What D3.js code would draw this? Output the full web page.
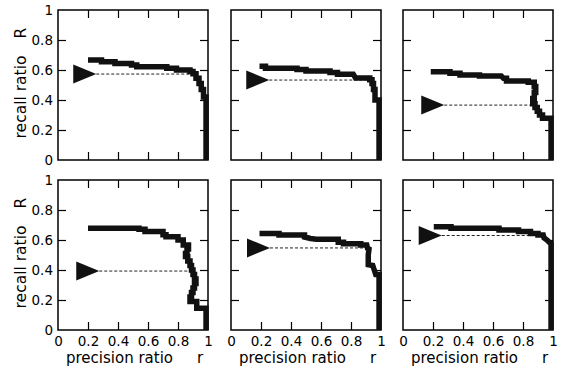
<!DOCTYPE html>
<html>
<head>
<meta charset="utf-8">
<script src="https://cdn.jsdelivr.net/npm/d3@7"></script>
<style>
  html, body { margin: 0; padding: 0; background: #fff; }
  svg { display: block; }
</style>
</head>
<body>
<svg id="chart" width="565" height="370"></svg>
<script>
// Precision (r) / recall (R) curves, one per panel, as [r, R] points.
const curve1 = [[0.20,0.667],[0.29,0.667],[0.29,0.655],[0.38,0.655],[0.38,0.644],[0.49,0.644],[0.49,0.633],[0.525,0.633],[0.525,0.622],[0.725,0.622],[0.725,0.611],[0.79,0.611],[0.79,0.600],[0.88,0.600],[0.88,0.590],[0.90,0.590],[0.90,0.575],[0.92,0.575],[0.92,0.545],[0.94,0.545],[0.94,0.51],[0.955,0.51],[0.955,0.47],[0.97,0.47],[0.97,0.42],[0.987,0.42],[0.987,0]];
const curve2 = [[0.19,0.625],[0.23,0.625],[0.23,0.612],[0.44,0.612],[0.44,0.603],[0.50,0.603],[0.50,0.593],[0.66,0.593],[0.66,0.583],[0.71,0.583],[0.71,0.572],[0.815,0.572],[0.83,0.547],[0.925,0.547],[0.925,0.535],[0.94,0.535],[0.94,0.51],[0.95,0.51],[0.95,0.47],[0.96,0.47],[0.96,0.40],[0.987,0.40],[0.987,0]];
const curve3 = [[0.185,0.589],[0.313,0.589],[0.313,0.578],[0.38,0.578],[0.38,0.567],[0.51,0.567],[0.51,0.56],[0.655,0.56],[0.67,0.545],[0.69,0.545],[0.69,0.527],[0.835,0.527],[0.835,0.518],[0.865,0.518],[0.875,0.518],[0.875,0.49],[0.885,0.49],[0.885,0.45],[0.875,0.45],[0.875,0.41],[0.865,0.41],[0.865,0.375],[0.88,0.375],[0.88,0.35],[0.895,0.35],[0.895,0.325],[0.91,0.325],[0.91,0.30],[0.93,0.30],[0.93,0.278],[0.987,0.278],[0.987,0]];
const curve4 = [[0.20,0.678],[0.54,0.678],[0.54,0.671],[0.58,0.671],[0.58,0.656],[0.70,0.656],[0.70,0.635],[0.72,0.635],[0.72,0.622],[0.80,0.622],[0.80,0.60],[0.835,0.60],[0.835,0.567],[0.87,0.567],[0.87,0.54],[0.86,0.54],[0.86,0.51],[0.85,0.51],[0.85,0.49],[0.865,0.49],[0.865,0.46],[0.88,0.46],[0.88,0.43],[0.89,0.43],[0.89,0.40],[0.90,0.40],[0.90,0.37],[0.91,0.37],[0.91,0.34],[0.92,0.34],[0.92,0.31],[0.91,0.31],[0.91,0.28],[0.90,0.28],[0.90,0.25],[0.89,0.25],[0.89,0.22],[0.88,0.22],[0.88,0.19],[0.925,0.19],[0.925,0.145],[0.987,0.145],[0.987,0]];
const curve5 = [[0.19,0.644],[0.32,0.644],[0.32,0.633],[0.49,0.633],[0.49,0.62],[0.53,0.61],[0.57,0.605],[0.715,0.605],[0.715,0.585],[0.75,0.585],[0.75,0.575],[0.865,0.575],[0.865,0.567],[0.905,0.567],[0.91,0.545],[0.92,0.54],[0.915,0.50],[0.915,0.435],[0.945,0.43],[0.955,0.40],[0.965,0.37],[0.987,0.37],[0.987,0]];
const curve6 = [[0.205,0.689],[0.32,0.689],[0.32,0.678],[0.64,0.678],[0.64,0.667],[0.77,0.667],[0.77,0.656],[0.85,0.656],[0.85,0.644],[0.90,0.644],[0.90,0.633],[0.935,0.633],[0.94,0.615],[0.96,0.60],[0.975,0.585],[0.987,0.578],[0.987,0]];

// Reference level marked by the arrowhead in each panel.
const markerRecall = [0.573, 0.533, 0.366, 0.393, 0.547, 0.630];
const markerPrecision = [0.255, 0.255, 0.275, 0.275, 0.26, 0.258];

// Ticks
const tickValues = [0, 0.2, 0.4, 0.6, 0.8, 1];
const tickLabels = ["0", "0.2", "0.4", "0.6", "0.8", "1"];
const innerTicks = [0.2, 0.4, 0.6, 0.8];

const curves = [curve1, curve2, curve3, curve4, curve5, curve6];

const svg = d3.select("#chart");
const FONT = "'DejaVu Sans', sans-serif";
const size = 150;
const colLeft = [58, 231, 403];
const rowTop = [10, 180];

function crossingX(pts, R, fromX) {
  for (let i = 0; i < pts.length - 1; i++) {
    const [x0, y0] = pts[i], [x1, y1] = pts[i + 1];
    if ((y0 - R) * (y1 - R) <= 0 && Math.max(x0, x1) > fromX) {
      if (y0 === y1) return x0;
      return x0 + (R - y0) / (y1 - y0) * (x1 - x0);
    }
  }
  return pts[pts.length - 1][0];
}

curves.forEach((pts, k) => {
  const row = Math.floor(k / 3), col = k % 3;
  const left = colLeft[col], top = rowTop[row];
  const x = d3.scaleLinear().domain([0, 1]).range([left, left + size]);
  const y = d3.scaleLinear().domain([0, 1]).range([top + size, top]);
  const g = svg.append("g");

  // inward ticks on all four sides
  const styleAxis = sel => {
    sel.select(".domain").remove();
    sel.selectAll(".tick line").attr("stroke", "#000").attr("stroke-width", 1.2);
    sel.selectAll(".tick text").attr("fill", "#000");
    sel.attr("font-family", FONT).attr("font-size", 13.5);
  };
  g.append("g").attr("transform", `translate(0,${top})`)
    .call(d3.axisTop(x).tickValues(innerTicks).tickSize(-8).tickFormat(""))
    .call(styleAxis);
  g.append("g").attr("transform", `translate(${left + size},0)`)
    .call(d3.axisRight(y).tickValues(innerTicks).tickSize(-8).tickFormat(""))
    .call(styleAxis);
  if (col === 0) {
    g.append("g").attr("transform", `translate(${left},0)`)
      .call(d3.axisLeft(y).tickValues(tickValues).tickSize(-8).tickPadding(5)
        .tickFormat((d, i) => tickLabels[i]))
      .call(styleAxis)
      .call(s => s.selectAll(".tick").filter(d => d === 0 || d === 1).select("line").remove());
  } else {
    g.append("g").attr("transform", `translate(${left},0)`)
      .call(d3.axisLeft(y).tickValues(innerTicks).tickSize(-8).tickFormat(""))
      .call(styleAxis);
  }
  if (row === 1) {
    g.append("g").attr("transform", `translate(0,${top + size})`)
      .call(d3.axisBottom(x).tickValues(tickValues).tickSize(-8).tickPadding(6)
        .tickFormat((d, i) => tickLabels[i]))
      .call(styleAxis)
      .call(s => s.selectAll(".tick").filter(d => d === 0 || d === 1).select("line").remove());
  } else {
    g.append("g").attr("transform", `translate(0,${top + size})`)
      .call(d3.axisBottom(x).tickValues(innerTicks).tickSize(-8).tickFormat(""))
      .call(styleAxis);
  }

  // frame
  g.append("rect")
    .attr("x", x(0)).attr("y", y(1))
    .attr("width", x(1) - x(0)).attr("height", y(0) - y(1))
    .attr("fill", "none").attr("stroke", "#000").attr("stroke-width", 1.5);

  // dashed reference line from the arrowhead to the curve
  const R = markerRecall[k], P = markerPrecision[k];
  const xEnd = crossingX(pts, R, P);
  g.append("line")
    .attr("x1", x(P)).attr("x2", x(xEnd))
    .attr("y1", y(R)).attr("y2", y(R))
    .attr("stroke", "#222").attr("stroke-width", 1)
    .attr("stroke-dasharray", "3,2");

  // arrowhead
  const tx = x(P), ty = y(R);
  g.append("path")
    .attr("d", `M${tx},${ty}L${tx - 23},${ty - 9.5}L${tx - 23},${ty + 9.5}Z`)
    .attr("fill", "#111");

  // curve
  g.append("path")
    .datum(pts)
    .attr("d", d3.line().x(d => x(d[0])).y(d => y(d[1])))
    .attr("fill", "none").attr("stroke", "#111")
    .attr("stroke-width", 5.5).attr("stroke-linejoin", "miter")
    .attr("stroke-linecap", "butt");

  // axis titles
  if (col === 0) {
    g.append("text")
      .attr("transform", `translate(26,${top + 87}) rotate(-90)`)
      .attr("text-anchor", "middle")
      .attr("font-family", FONT).attr("font-size", 15.5).attr("fill", "#000")
      .text("recall ratio");
    g.append("text")
      .attr("transform", `translate(26,${top + 23}) rotate(-90)`)
      .attr("text-anchor", "middle")
      .attr("font-family", FONT).attr("font-size", 15.5).attr("fill", "#000")
      .text("R");
  }
  if (row === 1) {
    g.append("text")
      .attr("x", left + 8).attr("y", 363)
      .attr("font-family", FONT).attr("font-size", 15).attr("fill", "#000")
      .text("precision ratio");
    g.append("text")
      .attr("x", left + 139).attr("y", 363)
      .attr("font-family", FONT).attr("font-size", 15).attr("fill", "#000")
      .text("r");
  }
});
</script>
</body>
</html>
